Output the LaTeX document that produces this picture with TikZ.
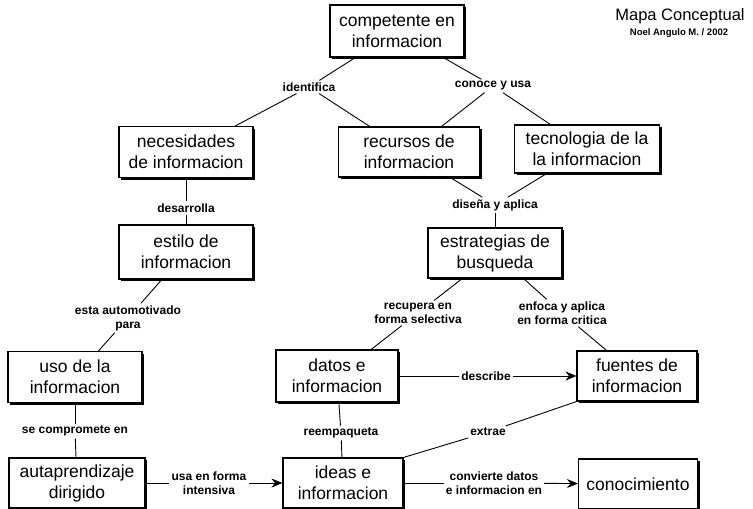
\documentclass[tikz,border=0pt]{standalone}
\usepackage{fontspec}
\setmainfont{Liberation Sans}
\usetikzlibrary{arrows.meta,shadows}

\begin{document}
\begin{tikzpicture}[x=1pt,y=-1pt,
    concepto/.style={draw,line width=1.1pt,fill=white,align=center,inner sep=0pt,
      font=\fontsize{17.5}{21}\selectfont,
      drop shadow={shadow xshift=2pt,shadow yshift=-2pt,fill=black,opacity=1}},
    enlace/.style={align=center,inner sep=2pt,font=\bfseries\fontsize{12}{14}\selectfont},
    linea/.style={line width=0.9pt},
    flecha/.style={line width=0.9pt,-{Stealth[length=11pt,width=9pt]}}]
\useasboundingbox (0,0) rectangle (753,509);

\node[concepto,minimum width=134,minimum height=52] (comp) at (397,31) {competente en\\informacion};
\node[concepto,minimum width=134,minimum height=51] (nece) at (186,152) {necesidades\\de informacion};
\node[concepto,minimum width=141,minimum height=50] (recu) at (409,152) {recursos de\\informacion};
\node[concepto,minimum width=145,minimum height=48] (tecn) at (587,149) {tecnologia de la\\la informacion};
\node[concepto,minimum width=134,minimum height=54] (esti) at (186,252) {estilo de\\informacion};
\node[concepto,minimum width=134,minimum height=50] (estr) at (495,253) {estrategias de\\busqueda};
\node[concepto,minimum width=134,minimum height=51] (uso) at (75,377) {uso de la\\informacion};
\node[concepto,minimum width=122,minimum height=52] (dato) at (337,376) {datos e\\informacion};
\node[concepto,minimum width=120,minimum height=50] (fuen) at (637,376) {fuentes de\\informacion};
\node[concepto,minimum width=136,minimum height=50] (auto) at (77,483) {autaprendizaje\\dirigido};
\node[concepto,minimum width=120,minimum height=50] (idea) at (343,483) {ideas e\\informacion};
\node[concepto,minimum width=119,minimum height=50] (cono) at (638,484) {conocimiento};

\node[enlace] (iden) at (309,87) {identifica};
\node[enlace] (cono-usa) at (493,86) {conoce y usa};
\node[enlace] (desa) at (186,208) {desarrolla};
\node[enlace] (dise) at (495,205) {diseña y aplica};
\node[enlace] (moti) at (128,318) {esta automotivado\\para};
\node[enlace] (recp) at (418,313) {recupera en\\forma selectiva};
\node[enlace] (enfo) at (562,313) {enfoca y aplica\\en forma critica};
\node[enlace] (desc) at (486,376) {describe};
\node[enlace] (comprom) at (75,431) {se compromete en};
\node[enlace] (reem) at (341,433) {reempaqueta};
\node[enlace] (extr) at (488,432) {extrae};
\node[enlace] (usa) at (209,483) {usa en forma\\intensiva};
\node[enlace] (conv) at (494,483) {convierte datos\\e informacion en};

\node[font=\fontsize{16.5}{18}\selectfont] (titulo) at (680,16) {Mapa Conceptual};
\node[font=\bfseries\fontsize{9.5}{11}\selectfont] (autor) at (679,33) {Noel Angulo M. / 2002};

\draw[linea] (comp) -- (iden);
\draw[linea] (iden) -- (nece);
\draw[linea] (iden) -- (recu);
\draw[linea] (comp) -- (cono-usa);
\draw[linea] (cono-usa) -- (recu);
\draw[linea] (cono-usa) -- (tecn);
\draw[linea] (nece) -- (desa);
\draw[linea] (desa) -- (esti);
\draw[linea] (recu) -- (dise);
\draw[linea] (tecn) -- (dise);
\draw[linea] (dise) -- (estr);
\draw[linea] (esti) -- (moti);
\draw[linea] (moti) -- (uso);
\draw[linea] (estr) -- (recp);
\draw[linea] (recp) -- (dato);
\draw[linea] (estr) -- (enfo);
\draw[linea] (enfo) -- (fuen);
\draw[linea] (dato) -- (desc);
\draw[flecha] (desc) -- (fuen);
\draw[linea] (uso) -- (comprom);
\draw[linea] (comprom) -- (auto);
\draw[linea] (dato) -- (reem);
\draw[linea] (reem) -- (idea);
\draw[linea] (idea.north east) -- (extr);
\draw[linea] (extr) -- (fuen.south west);
\draw[linea] (auto) -- (usa);
\draw[flecha] (usa) -- (idea);
\draw[linea] (idea) -- (conv);
\draw[flecha] (conv) -- (cono);
\end{tikzpicture}
\end{document}
